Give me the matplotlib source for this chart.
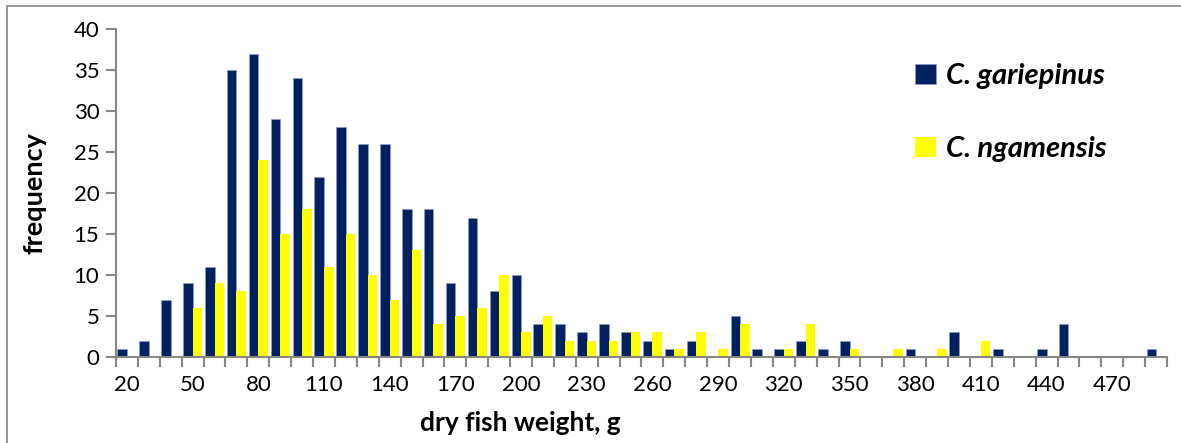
import numpy as np
import matplotlib.pyplot as plt
from matplotlib.patches import Rectangle

# weight classes, g (10 g bins)
weights = list(range(20, 500, 10))
gariepinus = [1, 2, 7, 9, 11, 35, 37, 29, 34, 22, 28, 26, 26, 18, 18, 9, 17, 8, 10, 4,
              4, 3, 4, 3, 2, 1, 2, 0, 5, 1, 1, 2, 1, 2, 0, 0, 1, 0, 3, 0,
              1, 0, 1, 4, 0, 0, 0, 1]
ngamensis = [0, 0, 0, 6, 9, 8, 24, 15, 18, 11, 15, 10, 7, 13, 4, 5, 6, 10, 3, 5,
             2, 2, 2, 3, 3, 1, 3, 1, 4, 0, 1, 4, 0, 1, 0, 1, 0, 1, 0, 2,
             0, 0, 0, 0, 0, 0, 0, 0]

plt.rcParams['font.family'] = ['Lato', 'DejaVu Sans']

W, H = 1181, 443
fig = plt.figure(figsize=(W / 100, H / 100), dpi=100)
ax = fig.add_axes([116 / W, 1 - 357 / H, (1167 - 116) / W, (357 - 29) / H])

x = np.arange(len(weights))
bw = 0.435
ax.bar(x - bw / 2, gariepinus, width=bw, color='#002060', edgecolor='#8fa0c8',
       linewidth=0.4, label='C. gariepinus')
ax.bar(x + bw / 2, ngamensis, width=bw, color='#FFFF00', linewidth=0,
       label='C. ngamensis')

ax.set_xlim(-0.5, len(weights) - 0.5)
ax.set_ylim(0, 40)
ax.set_yticks(range(0, 41, 5))

lab_idx = list(range(0, len(weights), 3))
ax.set_xticks(lab_idx)
ax.set_xticklabels([str(weights[i]) for i in lab_idx])
ax.set_xticks(np.arange(-0.5, len(weights), 1), minor=True)
ax.tick_params(axis='x', which='major', length=0, pad=13, labelsize=16)
ax.tick_params(axis='x', which='minor', length=7, width=1.5, color='#868686', direction='out')
ax.tick_params(axis='y', length=7, width=1.5, color='#868686', labelsize=16, pad=5)

for s in ['top', 'right']:
    ax.spines[s].set_visible(False)
for s in ['left', 'bottom']:
    ax.spines[s].set_color('#868686')
    ax.spines[s].set_linewidth(1.5)

ax.set_xlabel('dry fish weight, g', fontsize=19, fontweight='bold')
ax.xaxis.set_label_coords((520 - 116) / (1167 - 116), -0.165)
ax.set_ylabel('frequency', fontsize=19.5, fontweight='bold')
ax.yaxis.set_label_coords((47 - 116) / (1167 - 116), 0.5)

leg = ax.legend(loc='upper left', bbox_to_anchor=((889 - 116) / (1167 - 116), 0.975),
                frameon=False, handlelength=0.7, handleheight=0.7, handletextpad=0.35,
                labelspacing=1.6, prop={'size': 21, 'weight': 'bold', 'style': 'italic'})

# outer chart border
fig.patches.append(Rectangle((7 / W, -0.05), 1.1, 1 - 6 / H + 0.05, transform=fig.transFigure,
                             fill=False, edgecolor='#868686', linewidth=1.2))

fig.savefig('out.png', dpi=100)
